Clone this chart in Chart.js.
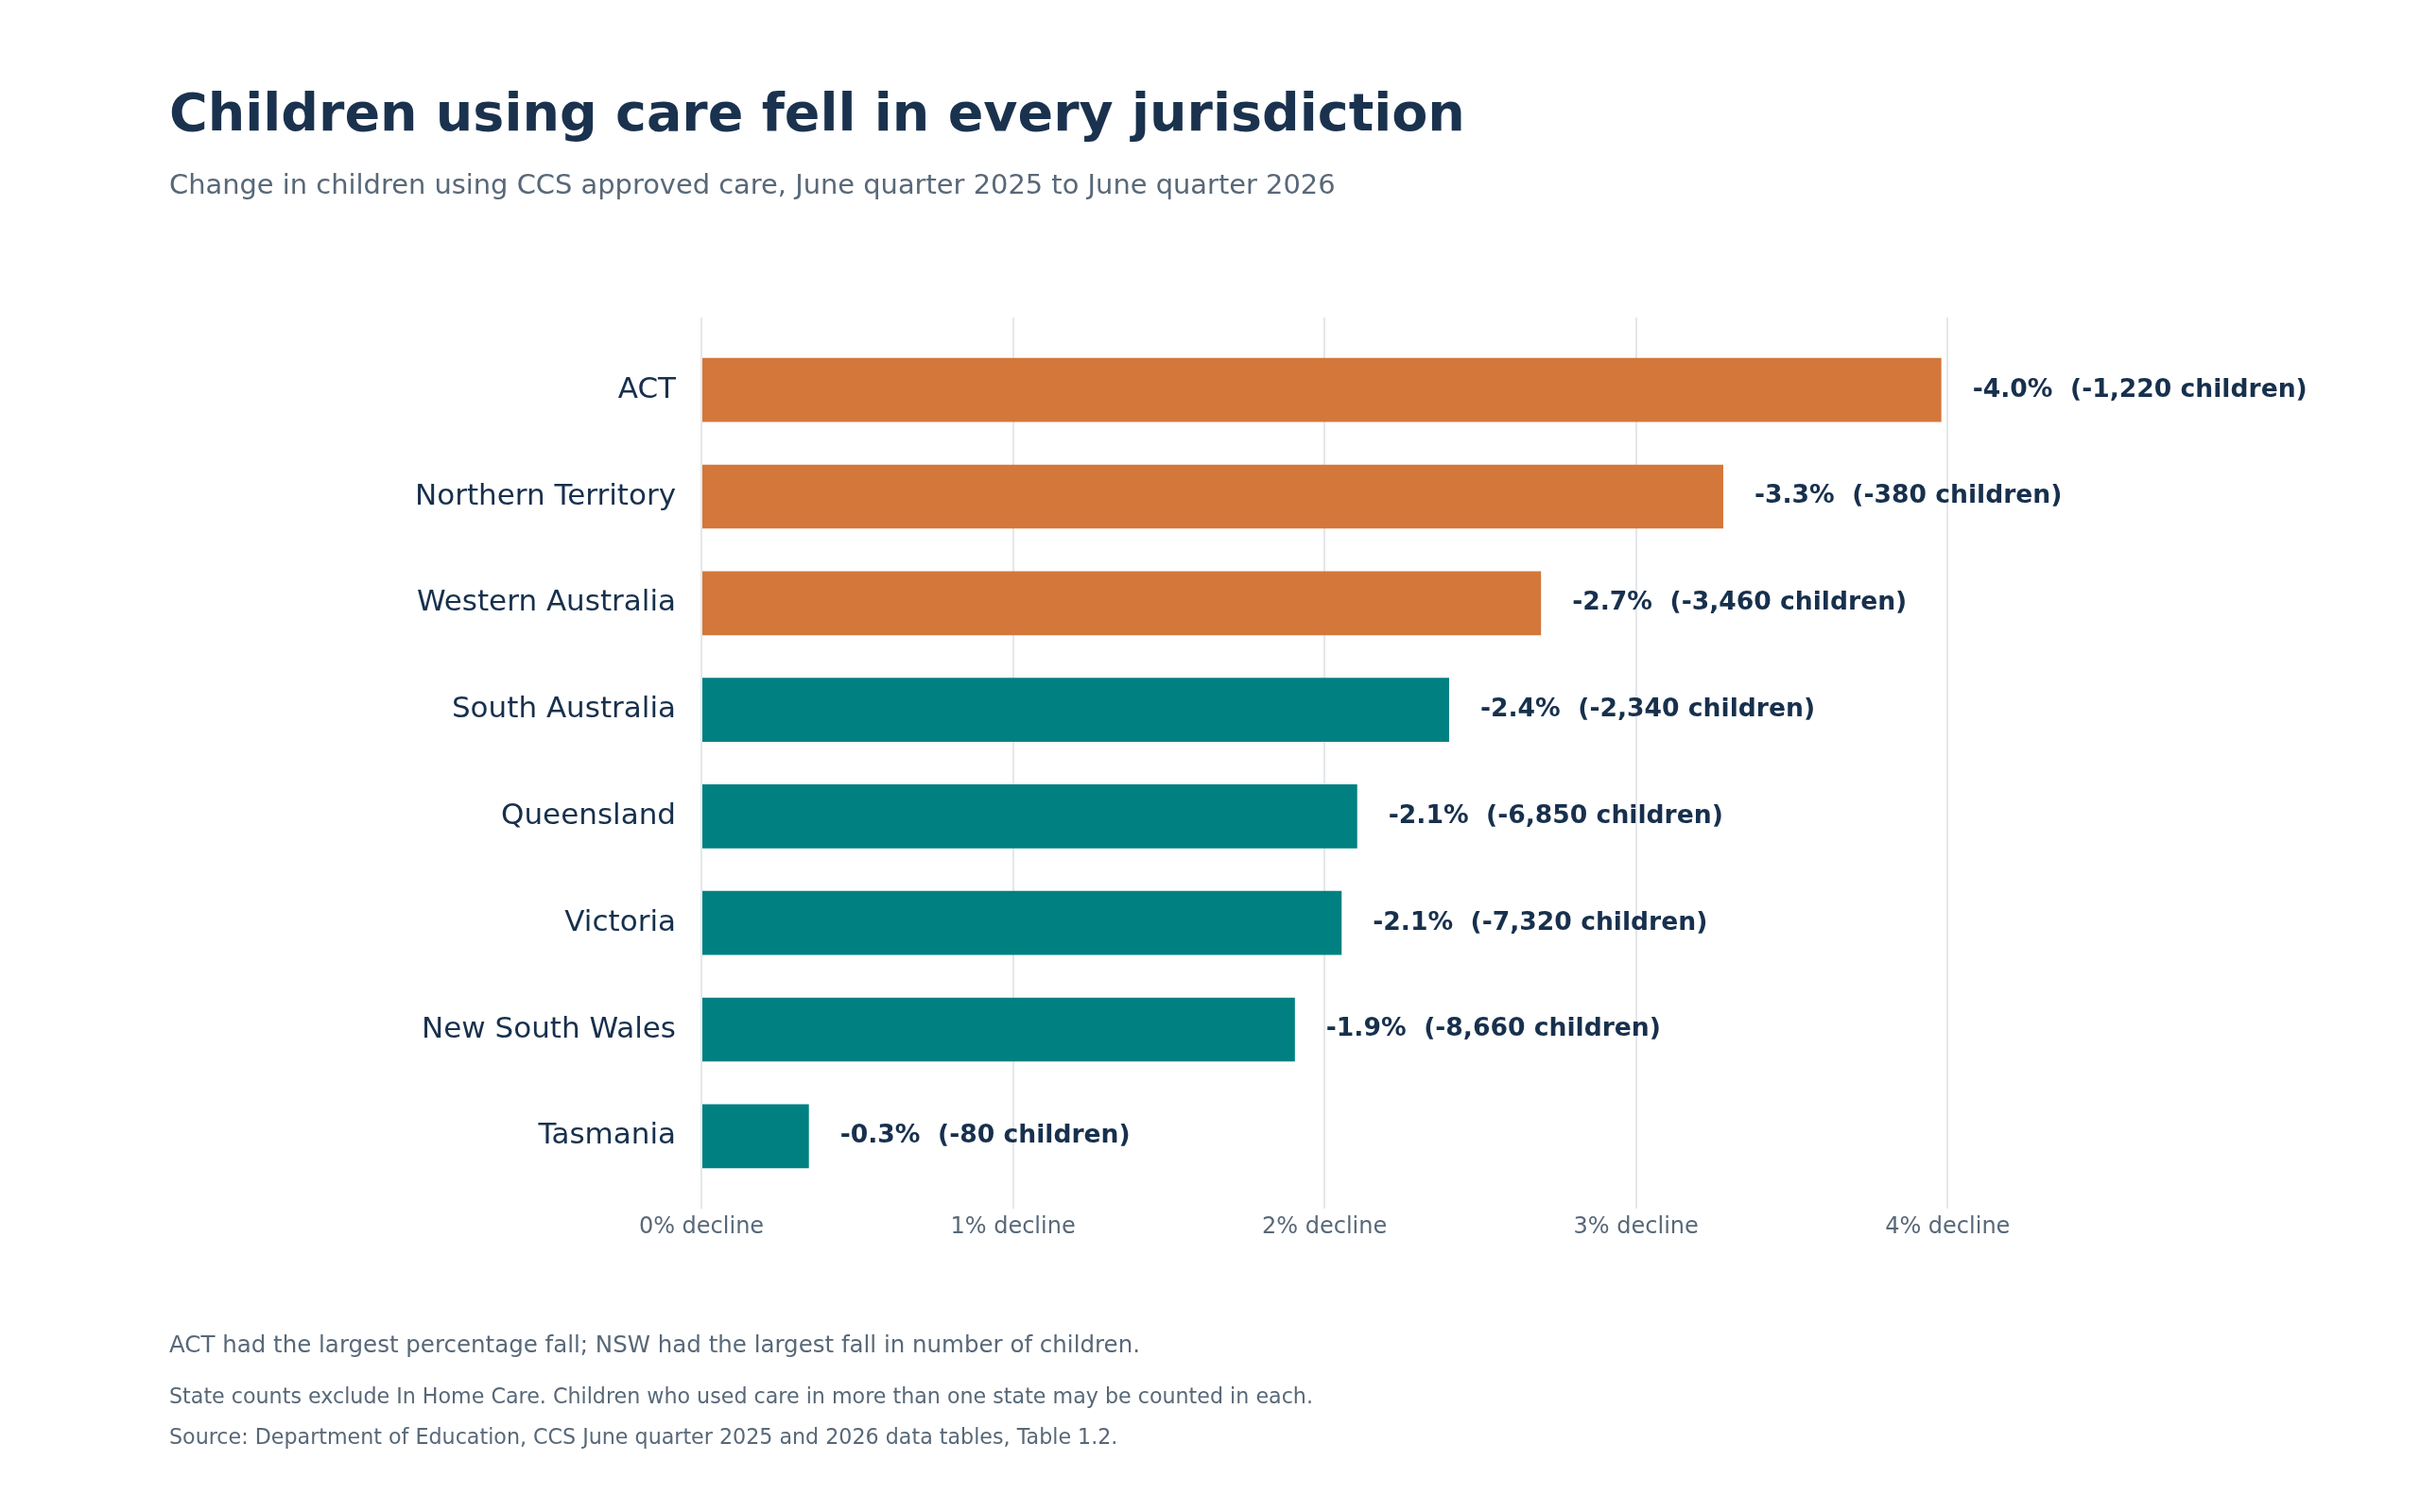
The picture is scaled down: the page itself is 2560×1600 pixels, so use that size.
<!DOCTYPE html>
<html>
<head>
<meta charset="utf-8">
<script src="https://cdn.jsdelivr.net/npm/chart.js@4"></script>
<style>
  html, body { margin: 0; padding: 0; background: #fff; }
  body { width: 2560px; height: 1600px; position: relative; overflow: hidden; font-family: "DejaVu Sans", sans-serif; }
  .txt { position: absolute; left: 179px; line-height: 1; white-space: nowrap; }
  #title { top: 91px; font-size: 55.5px; font-weight: bold; color: #1a324e; }
  #subtitle { top: 181px; font-size: 28.9px; color: #586878; }
  #note { top: 1411px; font-size: 24.5px; color: #586878; }
  #caveat { top: 1466px; font-size: 22.2px; color: #586878; }
  #source { top: 1509px; font-size: 22.2px; color: #586878; }
  #wrap { position: absolute; left: 0; top: 0; width: 2560px; height: 1600px; }
</style>
</head>
<body>
<div id="wrap"><canvas id="chart"></canvas></div>
<div class="txt" id="title">Children using care fell in every jurisdiction</div>
<div class="txt" id="subtitle">Change in children using CCS approved care, June quarter 2025 to June quarter 2026</div>
<div class="txt" id="note">ACT had the largest percentage fall; NSW had the largest fall in number of children.</div>
<div class="txt" id="caveat">State counts exclude In Home Care. Children who used care in more than one state may be counted in each.</div>
<div class="txt" id="source">Source: Department of Education, CCS June quarter 2025 and 2026 data tables, Table 1.2.</div>
<script>
// 数据 — 从上到下
const categories = ['ACT', 'Northern Territory', 'Western Australia', 'South Australia',
  'Queensland', 'Victoria', 'New South Wales', 'Tasmania'];
const declinePct = [3.98, 3.28, 2.695, 2.40, 2.105, 2.055, 1.905, 0.345];
const pctLabels = ['-4.0%', '-3.3%', '-2.7%', '-2.4%', '-2.1%', '-2.1%', '-1.9%', '-0.3%'];
const childLabels = ['-1,220', '-380', '-3,460', '-2,340', '-6,850', '-7,320', '-8,660', '-80'];
const highlighted = [true, true, true, false, false, false, false, false];
const xTicks = [0, 1, 2, 3, 4];
const xTickLabels = ['0% decline', '1% decline', '2% decline', '3% decline', '4% decline'];

const ORANGE = '#d4773a';
const TEAL = '#008081';
const NAVY = '#17304d';
const GREY = '#586878';
const FONT = '"DejaVu Sans", sans-serif';

// 柱末端标签
const valueLabels = {
  id: 'valueLabels',
  afterDatasetsDraw(chart) {
    const ctx = chart.ctx;
    const meta = chart.getDatasetMeta(0);
    ctx.save();
    ctx.font = 'bold 26.6px ' + FONT;
    ctx.fillStyle = NAVY;
    ctx.textAlign = 'left';
    ctx.textBaseline = 'middle';
    meta.data.forEach((bar, i) => {
      const txt = `${pctLabels[i]}  (${childLabels[i]} children)`;
      ctx.fillText(txt, bar.x + 33, bar.y);
    });
    ctx.restore();
  }
};

new Chart(document.getElementById('chart'), {
  type: 'bar',
  data: {
    datasets: [{
      data: declinePct.map((v, i) => ({ x: v, y: i })),
      backgroundColor: highlighted.map(h => h ? ORANGE : TEAL),
      borderWidth: 0,
      categoryPercentage: 0.6,
      barPercentage: 1.0
    }]
  },
  options: {
    indexAxis: 'y',
    responsive: true,
    maintainAspectRatio: false,
    animation: false,
    devicePixelRatio: 1,
    layout: { padding: { top: 336, right: 302, bottom: 281, left: 0 } },
    plugins: {
      legend: { display: false },
      tooltip: { enabled: false }
    },
    scales: {
      x: {
        type: 'linear',
        min: 0,
        max: 4.6,
        afterBuildTicks: s => { s.ticks = xTicks.map(v => ({ value: v })); },
        afterFit: s => { s.height = 40; },
        grid: { color: '#e4e7eb', lineWidth: 2, drawTicks: false },
        border: { display: false },
        ticks: {
          padding: 5,
          color: GREY,
          font: { family: FONT, size: 24 },
          callback: v => xTickLabels[xTicks.indexOf(v)] ?? ''
        }
      },
      y: {
        type: 'linear',
        reverse: true,
        offset: false,
        min: -0.68,
        max: 7.68,
        afterBuildTicks: s => { s.ticks = categories.map((c, i) => ({ value: i })); },
        afterFit: s => { s.width = 742; },
        grid: { display: false, drawTicks: false, offset: false },
        border: { display: false },
        ticks: {
          padding: 27,
          color: NAVY,
          font: { family: FONT, size: 31 },
          callback: v => categories[v] ?? ''
        }
      }
    }
  },
  plugins: [valueLabels]
});
</script>
</body>
</html>
